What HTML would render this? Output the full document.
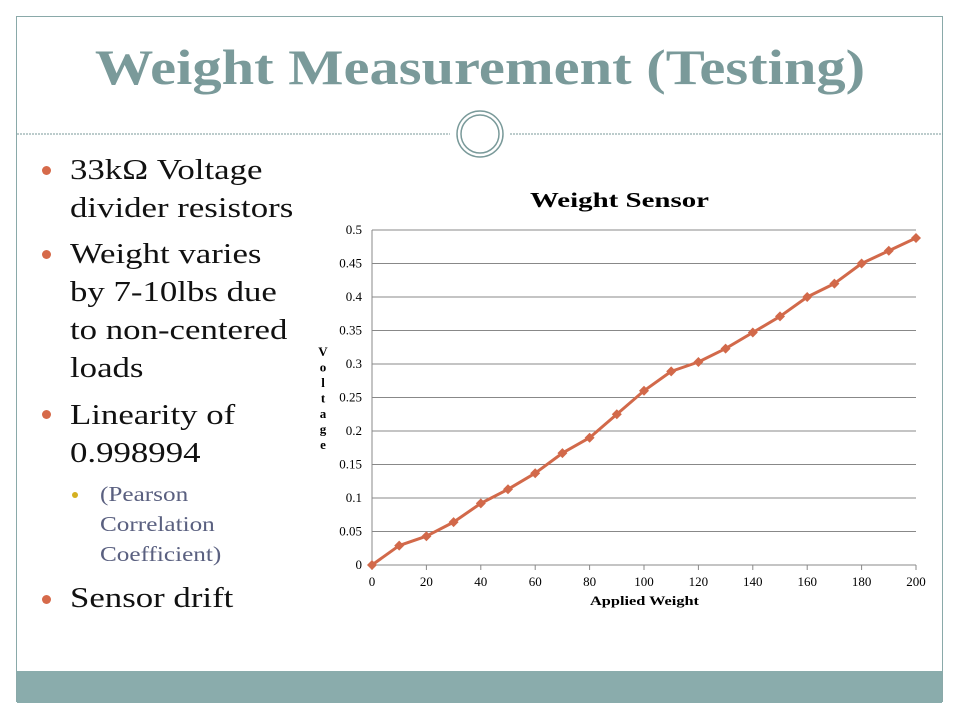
<!DOCTYPE html>
<html><head><meta charset="utf-8"><style>
body{margin:0;width:960px;height:720px;background:#fff;position:relative;overflow:hidden;font-family:"Liberation Serif",serif}
.frame{position:absolute;left:16px;top:16px;width:927px;height:686px;border:1px solid #8aa9a9;box-sizing:border-box}
.title{position:absolute;left:0;width:960px;top:38px;text-align:center;font-size:50px;font-weight:bold;color:#7a9a9a;transform:scaleX(1.17);transform-origin:480px 0}
.bar{position:absolute;left:17px;top:671px;width:925px;height:32px;background:#8aacac}
.t{position:absolute;left:70px;font-size:29px;color:#111;line-height:38px;transform:scaleX(1.2);transform-origin:0 0;white-space:nowrap}
.s{position:absolute;left:100px;font-size:21px;color:#5a6080;line-height:30px;transform:scaleX(1.2);transform-origin:0 0;white-space:nowrap}
.dot{position:absolute;width:9px;height:9px;border-radius:50%;background:#d66a4a}
.sd{position:absolute;width:6px;height:6px;border-radius:50%;background:#d4b020}
</style></head><body>
<div class="frame"></div>
<div class="title">Weight Measurement (Testing)</div>
<svg style="position:absolute;left:0;top:0" width="960" height="720">
<line x1="17" y1="134" x2="450" y2="134" stroke="#7a9a9a" stroke-dasharray="2,1"/>
<line x1="510" y1="134" x2="943" y2="134" stroke="#7a9a9a" stroke-dasharray="2,1"/>
<circle cx="480" cy="134" r="23" fill="#fff" stroke="#7a9a9a" stroke-width="1.5"/>
<circle cx="480" cy="134" r="19" fill="none" stroke="#7a9a9a" stroke-width="1.5"/>
</svg>
<div class="bar"></div>
<div class="dot" style="left:42px;top:166px"></div>
<div class="t" style="top:151px">33kΩ Voltage<br>divider resistors</div>
<div class="dot" style="left:42px;top:250px"></div>
<div class="t" style="top:235px">Weight varies<br>by 7-10lbs due<br>to non-centered<br>loads</div>
<div class="dot" style="left:42px;top:410px"></div>
<div class="t" style="top:396px">Linearity of<br>0.998994</div>
<div class="sd" style="left:72px;top:492px"></div>
<div class="s" style="top:479px">(Pearson<br>Correlation<br>Coefficient)</div>
<div class="dot" style="left:42px;top:595px"></div>
<div class="t" style="top:579px">Sensor drift</div>
<svg id="chart" style="position:absolute;left:0;top:0" width="960" height="720"></svg>
<script>
const xValues=[0,10,20,30,40,50,60,70,80,90,100,110,120,130,140,150,160,170,180,190,200];
const voltage=[0,0.029,0.043,0.064,0.092,0.113,0.137,0.167,0.19,0.225,0.26,0.289,0.303,0.323,0.347,0.371,0.40,0.42,0.45,0.469,0.488];
const yTicks=[0,0.05,0.1,0.15,0.2,0.25,0.3,0.35,0.4,0.45,0.5];
const xTicks=[0,20,40,60,80,100,120,140,160,180,200];
const svg=document.getElementById('chart');const NS='http://www.w3.org/2000/svg';
const X=v=>372+v/200*544, Y=v=>565-v/0.5*335;
function mk(t,a,txt){const e=document.createElementNS(NS,t);for(const k in a)e.setAttribute(k,a[k]);if(txt!=null)e.textContent=txt;svg.appendChild(e);return e;}
yTicks.forEach(v=>{const g=mk('line',{x1:372,x2:916,y1:Y(v),y2:Y(v),stroke:'#888','stroke-width':1});


const l=mk('text',{x:362,y:Y(v)+4,'text-anchor':'end','font-size':13,'font-family':'Liberation Serif, serif'},String(v));

});
mk('line',{x1:372,x2:372,y1:230,y2:565,stroke:'#888'});
xTicks.forEach(v=>{mk('line',{x1:X(v),x2:X(v),y1:565,y2:570,stroke:'#888'});
const l=mk('text',{x:X(v),y:586,'text-anchor':'middle','font-size':13,'font-family':'Liberation Serif, serif'},String(v));

});
const tt=mk('text',{x:530,y:207,'font-size':21,'font-weight':'bold','font-family':'Liberation Serif, serif',textLength:179,lengthAdjust:'spacingAndGlyphs'},'Weight Sensor');


const xt=mk('text',{x:590,y:605,'font-size':13,'font-weight':'bold','font-family':'Liberation Serif, serif',textLength:109,lengthAdjust:'spacingAndGlyphs'},'Applied Weight');


'Voltage'.split('').forEach((c,i)=>{const e=mk('text',{x:323,y:356+i*15.5,'text-anchor':'middle','font-size':13,'font-weight':'bold','font-family':'Liberation Serif, serif'},c);

});
const ln=mk('polyline',{points:xValues.map((x,i)=>X(x)+','+Y(voltage[i])).join(' '),fill:'none',stroke:'#d2694a','stroke-width':3,'stroke-linejoin':'round'});


xValues.forEach((x,i)=>{const cx=X(x),cy=Y(voltage[i]);const p=mk('polygon',{points:`${cx},${cy-5} ${cx+5},${cy} ${cx},${cy+5} ${cx-5},${cy}`,fill:'#d2694a'});

});
</script>
</body></html>
